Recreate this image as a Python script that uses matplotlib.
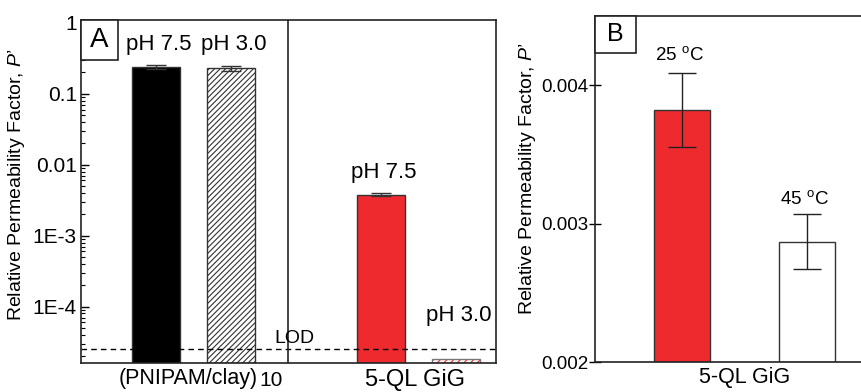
import numpy as np
import matplotlib
matplotlib.use("Agg")
from matplotlib import pyplot as plt
from matplotlib.patches import Rectangle
from matplotlib.ticker import FixedLocator, FixedFormatter, LogLocator, NullFormatter

plt.rcParams['font.family'] = ['Liberation Sans', 'DejaVu Sans']
plt.rcParams['mathtext.fontset'] = 'custom'
plt.rcParams['mathtext.rm'] = 'Liberation Sans'
plt.rcParams['mathtext.it'] = 'Liberation Sans:italic'
plt.rcParams['hatch.linewidth'] = 0.8

# panel A data
a_positions = [1, 2, 4, 5]
a_values = [0.24, 0.23, 0.0038, 1.85e-5]
a_errors = [0.015, 0.02, 0.0002, 0.0]
a_labels = ["pH 7.5", "pH 3.0", "pH 7.5", "pH 3.0"]
a_ticks = [1, 0.1, 0.01, 1e-3, 1e-4]
a_ticklabels = ["1", "0.1", "0.01", "1E-3", "1E-4"]
lod = 2.5e-5

# panel B data
b_positions = [1, 2]
b_values = [0.00382, 0.00287]
b_errors = [0.00027, 0.0002]
b_labels = ["25 $^\\mathregular{o}$C", "45 $^\\mathregular{o}$C"]

red = "#ee2a2e"
edge = "#333333"
ylabel = "Relative Permeability Factor, $P$\u2019"


def letter_box(axis, letter, w, h, size):
    axis.add_patch(Rectangle((0, 1 - h), w, h, transform=axis.transAxes, fc="white",
                             ec="#222222", lw=1.2, zorder=5, clip_on=False))
    axis.text(w / 2, 1 - h / 2, letter, fontsize=size, ha="center", va="center",
              transform=axis.transAxes, zorder=6)


fig = plt.figure(figsize=(8.61, 3.92), dpi=100)

# ---------- panel A ----------
ax = fig.add_axes([0.0941, 0.074, 0.482, 0.875])
ax.set_yscale("log")
ymin, ymax = 1.6e-5, 1.1
ax.set_ylim(ymin, ymax)
ax.set_xlim(0, 5.53)
w = 0.64

heights = [v - ymin for v in a_values]
ax.bar(a_positions[0], heights[0], bottom=ymin, width=w, color="black", edgecolor=edge, lw=1)
ax.bar(a_positions[1], heights[1], bottom=ymin, width=w, color="white", edgecolor=edge, hatch="//////", lw=1)
ax.bar(a_positions[2], heights[2], bottom=ymin, width=w, color=red, edgecolor=edge, lw=1)
# red hatched bar: hatch in red, outline in grey
ax.bar(a_positions[3], heights[3], bottom=ymin, width=w, color="white", edgecolor=red, hatch="/////", lw=0)
ax.bar(a_positions[3], heights[3], bottom=ymin, width=w, fill=False, edgecolor="#777777", lw=1)

for i in range(3):
    ax.errorbar(a_positions[i], a_values[i], yerr=a_errors[i], fmt="none", ecolor=edge,
                capsize=7, elinewidth=1, capthick=1)

ax.axhline(lod, color="black", ls=(0, (4, 3)), lw=1)
ax.text(2.85, lod * 1.06, "LOD", fontsize=14, ha="center", va="bottom")
ax.axvline(2.76, color="#222222", lw=1.2)

label_y = [0.49, 0.49, 0.0079, 7.5e-5]
for x, y, t in zip(a_positions, label_y, a_labels):
    ax.text(x + 0.03, y, t, fontsize=16, ha="center", va="center")

ax.yaxis.set_major_locator(FixedLocator(a_ticks))
ax.yaxis.set_major_formatter(FixedFormatter(a_ticklabels))
ax.yaxis.set_minor_locator(LogLocator(base=10, subs=np.arange(2, 10)))
ax.yaxis.set_minor_formatter(NullFormatter())
ax.tick_params(axis="y", which="major", direction="in", length=6, width=1, labelsize=15, pad=3)
ax.tick_params(axis="y", which="minor", direction="in", length=3, width=0.8)
ax.set_xticks([])
for s in ax.spines.values():
    s.set_linewidth(1.2)
    s.set_color("#222222")

ax.set_ylabel(ylabel, fontsize=14)
ax.yaxis.set_label_coords(-0.13, 0.52)
xt = ax.get_xaxis_transform()
ax.text(2.35, -0.045, "(PNIPAM/clay)", fontsize=15.5, ha="right", va="center", transform=xt)
ax.text(2.38, -0.052, "10", fontsize=15, ha="left", va="center", transform=xt)
ax.text(4.45, -0.05, "5-QL GiG", fontsize=17, ha="center", va="center", transform=xt)
letter_box(ax, "A", 0.089, 0.117, 20)

# ---------- panel B ----------
bx = fig.add_axes([0.691, 0.0765, 0.331, 0.883])
bx.set_ylim(0.002, 0.0045)
bx.set_xlim(0.304, 2.58)
wb = 0.45
bx.bar(b_positions[0], b_values[0] - 0.002, bottom=0.002, width=wb, color=red, edgecolor=edge, lw=1)
bx.bar(b_positions[1], b_values[1] - 0.002, bottom=0.002, width=wb, color="white", edgecolor=edge, lw=1)
bx.errorbar(b_positions, b_values, yerr=b_errors, fmt="none", ecolor="#222222",
            capsize=10, elinewidth=1, capthick=1)
b_label_y = [0.00422, 0.00318]
for x, y, t in zip(b_positions, b_label_y, b_labels):
    bx.text(x - 0.02, y, t, fontsize=13.5, ha="center", va="center")

bx.set_yticks([0.002, 0.003, 0.004])
bx.set_yticklabels(["0.002", "0.003", "0.004"])
bx.tick_params(axis="y", direction="inout", length=9, width=1, labelsize=13.5, pad=0)
bx.set_xticks([])
bx.spines["right"].set_visible(False)
for s in bx.spines.values():
    s.set_linewidth(1.2)
    s.set_color("#222222")
bx.set_ylabel(ylabel, fontsize=14)
bx.yaxis.set_label_coords(-0.2, 0.53)
bx.text(1.5, -0.045, "5-QL GiG", fontsize=15.5, ha="center", va="center",
        transform=bx.get_xaxis_transform())
letter_box(bx, "B", 0.144, 0.107, 18)

fig.savefig("out.png", dpi=100)
